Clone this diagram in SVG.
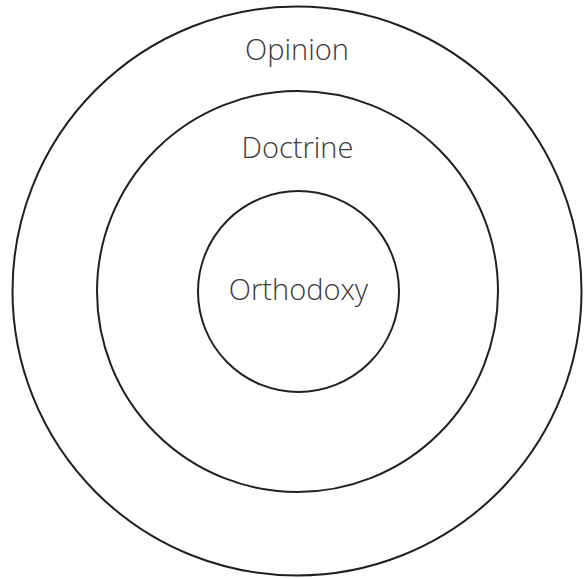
<svg xmlns="http://www.w3.org/2000/svg" width="588" height="579" viewBox="0 0 588 579">
<style>
.ring{fill:none;stroke:#231f20;stroke-width:2}
.lbl{font-family:"Open Sans","Liberation Sans",sans-serif;font-weight:300;font-size:29px;fill:#3a3a3a;text-anchor:middle}
</style>
<rect width="588" height="579" fill="#fff"/>
<g id="opinion">
<circle class="ring" cx="297" cy="291" r="284.5"/>
<text class="lbl" x="297" y="60">Opinion</text>
</g>
<g id="doctrine">
<circle class="ring" cx="297.5" cy="291.5" r="200.5"/>
<text class="lbl" x="297.5" y="158">Doctrine</text>
</g>
<g id="orthodoxy">
<circle class="ring" cx="298.5" cy="291.5" r="100.5"/>
<text class="lbl" x="298.5" y="299.5">Orthodoxy</text>
</g>
<g id="connectors"/>
</svg>
